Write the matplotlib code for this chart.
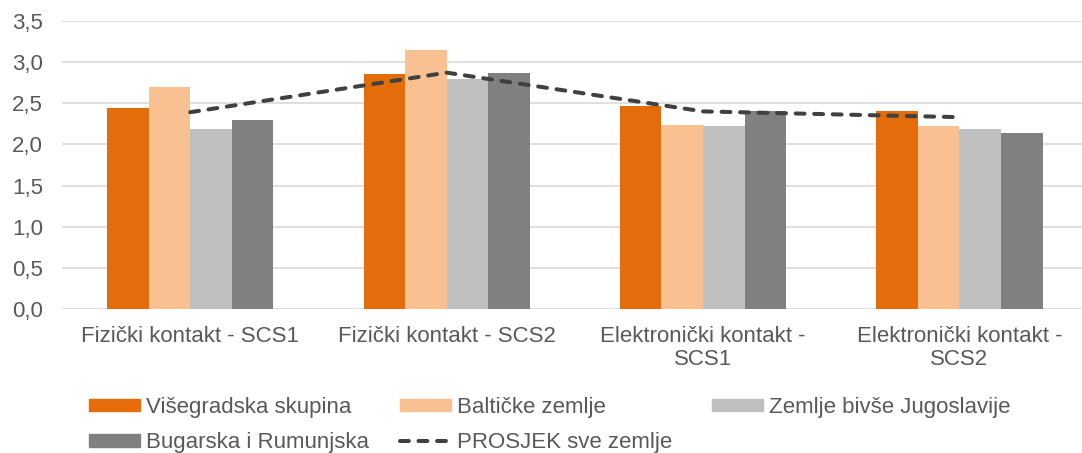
import matplotlib
matplotlib.use("Agg")
import matplotlib.pyplot as plt
import numpy as np
from matplotlib.lines import Line2D
from matplotlib.patches import Patch

categories = ["Fizički kontakt - SCS1", "Fizički kontakt - SCS2",
              "Elektronički kontakt -\nSCS1", "Elektronički kontakt -\nSCS2"]
series_names = ["Višegradska skupina", "Baltičke zemlje",
                "Zemlje bivše Jugoslavije", "Bugarska i Rumunjska"]
visegrad = [2.44, 2.85, 2.47, 2.41]
baltic = [2.69, 3.14, 2.23, 2.22]
yugo = [2.19, 2.79, 2.22, 2.19]
bgro = [2.30, 2.86, 2.40, 2.14]
average_name = "PROSJEK sve zemlje"
average = [2.39, 2.87, 2.40, 2.33]
yticks = [0.0, 0.5, 1.0, 1.5, 2.0, 2.5, 3.0, 3.5]

colors = ["#E46C0A", "#F9C192", "#BFBFBF", "#808080"]
text_color = "#595959"
grid_color = "#D9D9D9"
line_color = "#404040"

plt.rcParams['font.family'] = ['Liberation Sans', 'DejaVu Sans']
FS = 16

W, H = 1082, 453
fig = plt.figure(figsize=(W / 100, H / 100), dpi=100)
ax = fig.add_axes([62 / W, (H - 309.3) / H, (1082 - 62) / W, (309.3 - 20.7) / H])

x = np.arange(len(categories))
bw = 0.162
all_series = [visegrad, baltic, yugo, bgro]
for i, (vals, c, name) in enumerate(zip(all_series, colors, series_names)):
    ax.bar(x + (i - 1.5) * bw, vals, width=bw, color=c, label=name, zorder=2)

dash = (0, (2.2, 2.4))
ax.plot(x, average, color=line_color, lw=2.9, linestyle=dash,
        dash_capstyle='round', zorder=3, label=average_name)

ax.set_xlim(-0.5, 3.478)
ax.set_ylim(0, 3.5)
ax.set_yticks(yticks)
ax.set_yticklabels([f"{v:.1f}".replace(".", ",") for v in yticks])
ax.set_xticks(x)
ax.set_xticklabels(categories, linespacing=1.15)
ax.yaxis.grid(True, color=grid_color, lw=1.2, zorder=0)
ax.set_axisbelow(True)
for s in ["top", "right", "left", "bottom"]:
    ax.spines[s].set_visible(False)
ax.tick_params(axis='y', length=0, pad=13.5, labelsize=FS, labelcolor=text_color)
ax.tick_params(axis='x', length=0, pad=12, labelsize=FS, labelcolor=text_color)

handles = [Patch(color=c) for c in colors]
line_handle = Line2D([], [], color=line_color, lw=2.9, linestyle=dash,
                     dash_capstyle='round')
common = dict(frameon=False, fontsize=FS, handlelength=2.3, handleheight=0.5,
              handletextpad=0.28, labelcolor=text_color, borderpad=0, borderaxespad=0,
              labelspacing=0.65, loc='upper left')
top = 1 - 397 / H
fig.legend([handles[0], handles[3]], [series_names[0], series_names[3]],
           bbox_to_anchor=(89 / W, top), **common)
fig.legend([handles[1], line_handle], [series_names[1], average_name],
           bbox_to_anchor=(400 / W, top), **common)
fig.legend([handles[2]], [series_names[2]],
           bbox_to_anchor=(712 / W, top), **common)

fig.savefig("out.png", dpi=100)
